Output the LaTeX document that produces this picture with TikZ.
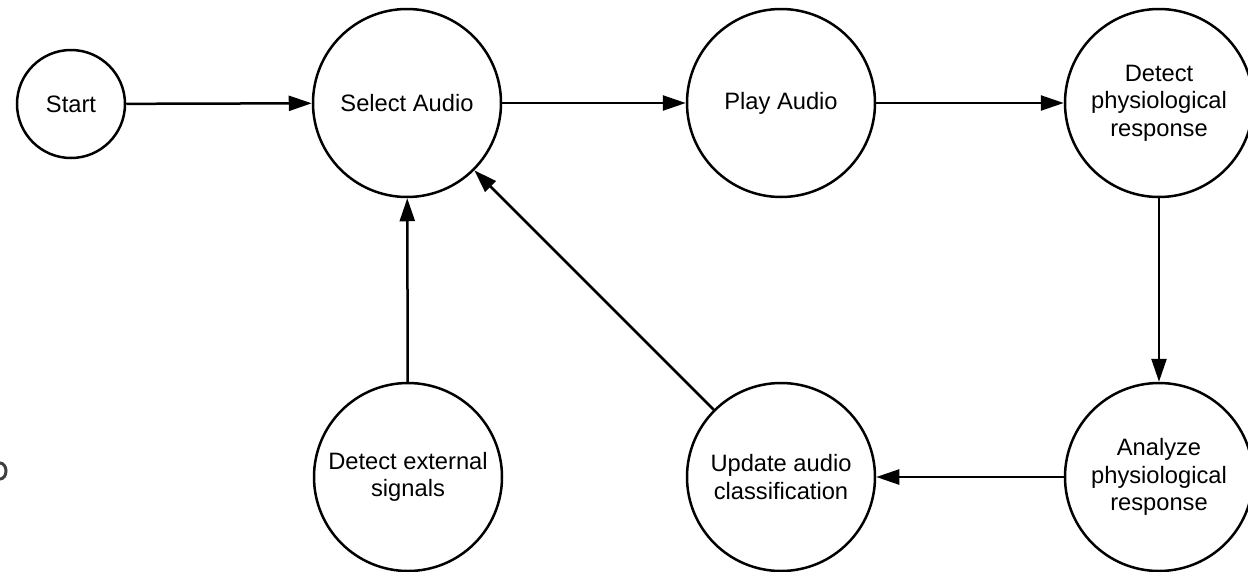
\documentclass[tikz,border=0pt]{standalone}
\usepackage{fontspec}
\setmainfont{Liberation Sans}
\usetikzlibrary{arrows.meta}
\begin{document}
\begin{tikzpicture}[x=1pt,y=-1pt,
  state/.style={circle, draw=black, line width=2.5pt, fill=white, inner sep=0pt,
    minimum size=188pt, align=center, font=\fontsize{23.7}{27.5}\selectfont, text=black},
  small/.style={state, minimum size=108pt},
  flow/.style={line width=2.5pt, -{Triangle[length=23pt,width=15pt]}}]
\clip (0,0) rectangle (1248,571);
\fill[white] (0,0) rectangle (1248,571);
\node[small] (start) at (71,104) {Start};
\node[state] (sel) at (407,103) {Select Audio};
\node[state] (play) at (781,103) {Play Audio};
\node[state] (det) at (1159,103) {Detect\\physiological\\response};
\node[state] (ana) at (1159,477) {Analyze\\physiological\\response};
\node[state] (upd) at (781,477) {Update audio\\classification};
\node[state] (ext) at (408,477) {Detect external\\signals};
\draw[flow] (start) -- (sel);
\draw[flow] (sel) -- (play);
\draw[flow] (play) -- (det);
\draw[flow] (det) -- (ana);
\draw[flow] (ana) -- (upd);
\draw[flow] (ext) -- (sel);
\draw[flow] (upd.135) -- (sel.-45);
\draw[line width=3pt, black!75] (0,471) ellipse [x radius=6pt, y radius=8pt];
\end{tikzpicture}
\end{document}
